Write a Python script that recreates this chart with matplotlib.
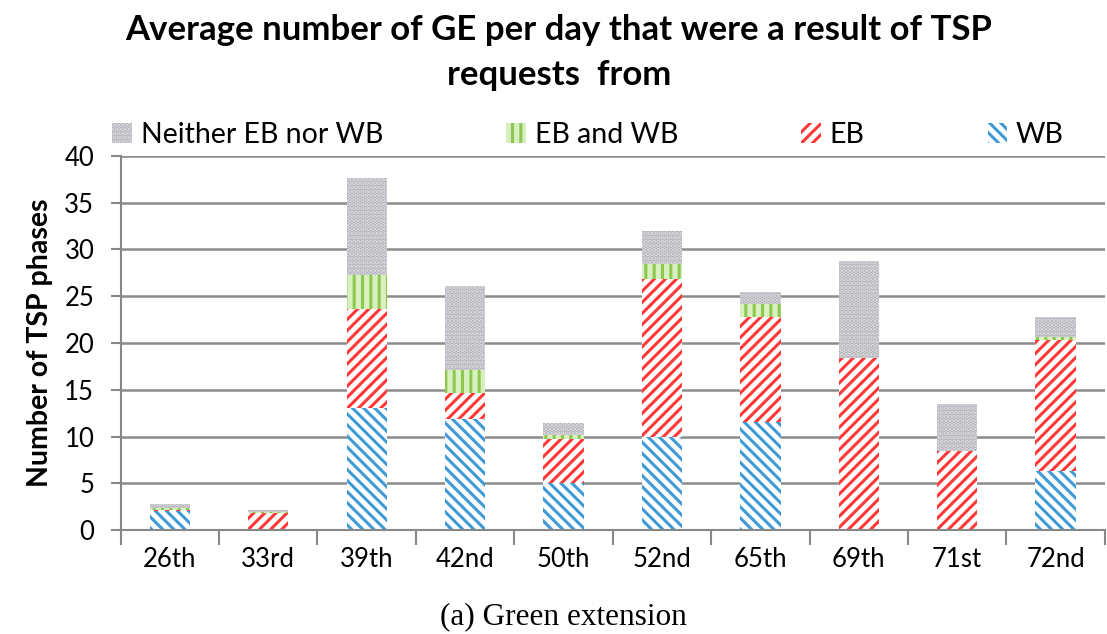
import numpy as np
import matplotlib.pyplot as plt

# street categories and stacked values
streets = ['26th', '33rd', '39th', '42nd', '50th', '52nd', '65th', '69th', '71st', '72nd']
wb = [2.0, 0.0, 13.0, 11.9, 5.0, 10.0, 11.6, 0.0, 0.0, 6.3]
eb = [0.15, 1.8, 10.6, 2.7, 4.7, 16.8, 11.2, 18.4, 8.5, 14.0]
eb_and_wb = [0.25, 0.15, 3.7, 2.5, 0.5, 1.7, 1.4, 0.0, 0.0, 0.3]
neither = [0.4, 0.15, 10.3, 9.0, 1.2, 3.5, 1.3, 10.4, 5.0, 2.2]

plt.rcParams['font.family'] = ['Lato', 'DejaVu Sans']
plt.rcParams['hatch.linewidth'] = 2.2

fig = plt.figure(figsize=(11.07, 6.34), dpi=100)
ax = fig.add_axes([0.109, 0.164, 0.889, 0.59])

x = np.arange(len(streets))
w = 0.41
b1 = np.array(wb)
b2 = b1 + np.array(eb)
b3 = b2 + np.array(eb_and_wb)

h_wb = ax.bar(x, wb, w, color='white', edgecolor='#3f9ad8', hatch='\\\\\\', lw=0, label='WB')
h_eb = ax.bar(x, eb, w, bottom=b1, color='white', edgecolor='#ff3838', hatch='///', lw=0, label='EB')
h_ew = ax.bar(x, eb_and_wb, w, bottom=b2, color='#d8efc0', edgecolor='#8cc850', hatch='||', lw=0, label='EB and WB')
h_ne = ax.bar(x, neither, w, bottom=b3, color='#acacb4', edgecolor='#e0e0e4', hatch='....', lw=0,
              label='Neither EB nor WB')

ax.set_ylim(0, 40)
ax.set_xlim(-0.5, len(streets) - 0.5)
ax.set_yticks(range(0, 41, 5))
ax.set_xticks(x)
ax.set_xticklabels(streets)
ax.set_xticks(np.arange(-0.5, len(streets), 1), minor=True)
ax.tick_params(axis='x', which='major', length=0, pad=12, labelsize=18.5)
ax.tick_params(axis='x', which='minor', length=11, color='#888888', width=1.5)
ax.tick_params(axis='y', length=7, color='#888888', width=1.5, labelsize=18.5, pad=12)
ax.yaxis.grid(True, color='#8c8c8c', lw=1.8)
ax.set_axisbelow(True)
for s in ['top', 'right']:
    ax.spines[s].set_visible(False)
ax.spines['left'].set_color('#888888')
ax.spines['left'].set_linewidth(1.5)
ax.spines['bottom'].set_color('#888888')
ax.spines['bottom'].set_linewidth(1.5)

ax.set_ylabel('Number of TSP phases', fontsize=20.5, fontweight='bold', labelpad=8)

ax.legend([h_ne, h_ew, h_eb, h_wb], ['Neither EB nor WB', 'EB and WB', 'EB', 'WB'],
          ncol=4, loc='lower left', bbox_to_anchor=(-0.02, 0.99, 0.99, 0.1), mode='expand',
          frameon=False, fontsize=20.5, handlelength=0.7, handleheight=0.7, handletextpad=0.3,
          borderaxespad=0)

fig.text(0.505, 0.978, 'Average number of GE per day that were a result of TSP\nrequests  from',
         ha='center', va='top', fontsize=25, fontweight='bold', linespacing=1.5)
fig.text(0.509, 0.027, '(a) Green extension', ha='center', va='center', fontsize=22.5,
         family='Liberation Serif')

fig.savefig('out.png', dpi=100)
